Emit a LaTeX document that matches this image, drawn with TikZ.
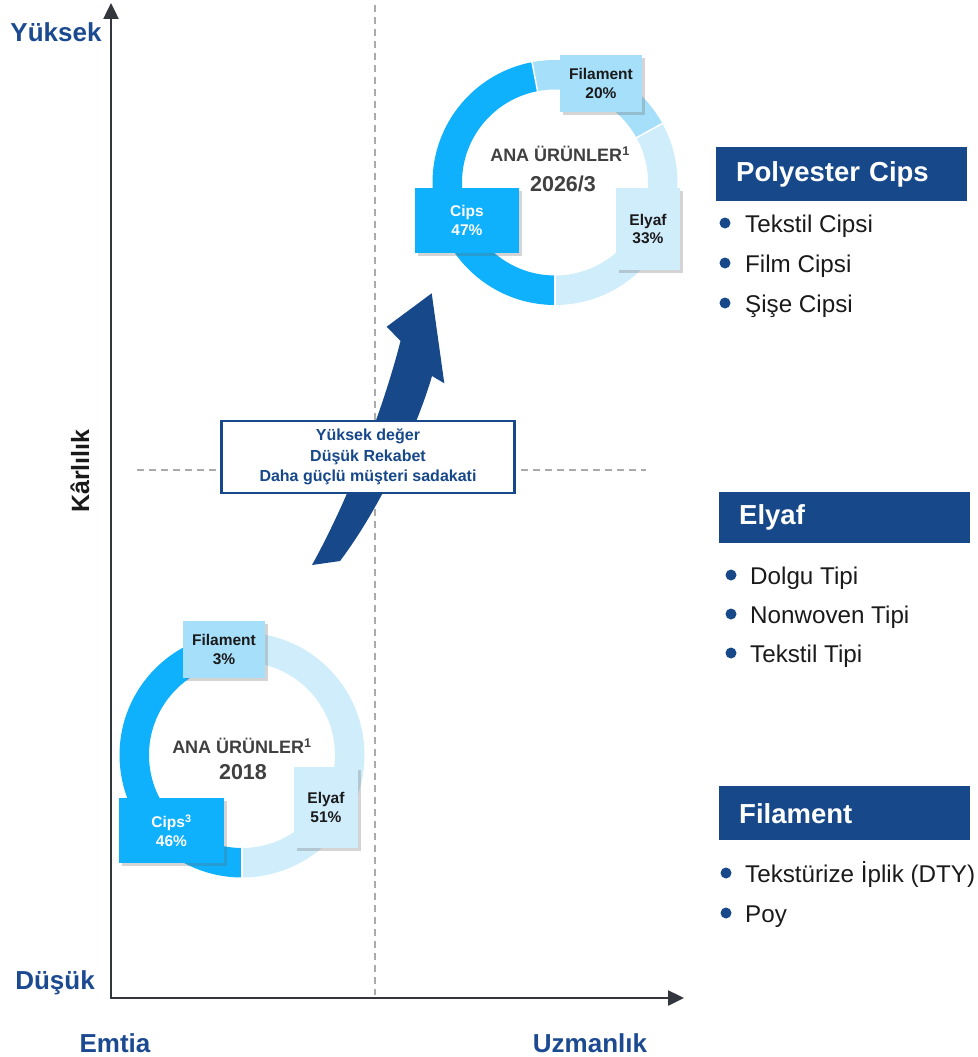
\documentclass[tikz,border=0pt]{standalone}
\usepackage{fontspec}
\setmainfont{Liberation Sans}
\usetikzlibrary{arrows.meta,shadows}
\definecolor{navy}{RGB}{22,72,138}
\definecolor{lblue}{RGB}{27,74,144}
\definecolor{cips}{RGB}{16,177,252}
\definecolor{fil}{RGB}{166,223,250}
\definecolor{ely}{RGB}{208,237,252}
\definecolor{axisc}{RGB}{51,54,61}
\definecolor{dashc}{RGB}{170,170,170}
\definecolor{ctr}{RGB}{64,64,64}
\definecolor{txt}{RGB}{26,26,26}
\newcommand\ringpart[4]{% center, start, end, colour
  \draw[line width=29.5pt,#4] (#1) ++(#2:107.75) arc[start angle=#2,end angle=#3,radius=107.75];}
\newcommand\ringsep[2]{%
  \draw[white,line width=1.5pt] (#1) ++(#2:92) -- ++(#2:31.5);}
\begin{document}
\begin{tikzpicture}[x=1pt,y=-1pt,
  axisline/.style={axisc,line width=2.5pt,{Triangle[length=16pt,width=15pt]}-{Triangle[length=16pt,width=15pt]}},
  dashline/.style={dashc,line width=1.5pt,dash pattern=on 7pt off 5pt},
  axlab/.style={text=lblue,font=\bfseries\fontsize{26}{30}\selectfont,inner sep=0pt},
  lab/.style={align=center,font=\bfseries\fontsize{15.5}{18.5}\selectfont,inner sep=0pt,
    drop shadow={shadow xshift=3pt,shadow yshift=-3pt,opacity=0.28,fill=black!60}},
  ctrtxt/.style={text=ctr,font=\bfseries\fontsize{18}{20}\selectfont,inner sep=0pt},
  yeartxt/.style={text=ctr,font=\bfseries\fontsize{21.5}{24}\selectfont,inner sep=0pt},
  hdr/.style={fill=navy,text=white,font=\bfseries\fontsize{27.5}{32}\selectfont,anchor=north west,
    inner xsep=20pt,inner ysep=0pt,text width=211pt,align=left},
  bul/.style={circle,fill=navy,minimum size=11pt,inner sep=0pt},
  item/.style={anchor=base west,text=txt,font=\fontsize{24.2}{28}\selectfont,inner sep=0pt}]
\useasboundingbox (0,0) rectangle (977,1057);

% dashed quadrant lines
\coordinate (vd1) at (375,5);
\coordinate (vd2) at (375,995);
\coordinate (hd1) at (137,470);
\coordinate (hd2) at (646,470);
\draw[dashline] (vd1) -- (vd2);
\draw[dashline] (hd1) -- (hd2);

% axes
\coordinate (O) at (111,998);
\coordinate (Ytop) at (111,3);
\coordinate (Xend) at (684,998);
\draw[axisline] (Ytop) -- (O) -- (Xend);

% axis labels
\node[axlab] (yuk) at (56,32) {Yüksek};
\node[axlab] (dus) at (55,983) {Düşük};
\node[axlab] (emt) at (115,1043) {Emtia};
\node[axlab] (uzm) at (590,1043) {Uzmanlık};
\node[text=txt,font=\bfseries\fontsize{25}{30}\selectfont,rotate=90,inner sep=0pt] (kar) at (80,471) {Kârlılık};

% big arrow
\fill[navy] (312,565) .. controls (348,500) and (383,410) .. (400.5,341)
  -- (386.7,326.7) -- (431.7,293.3) -- (444.3,383.3) -- (432,376)
  .. controls (421,415) and (386,500) .. (340,561) -- cycle;

% message box
\node[draw=navy,line width=2.5pt,fill=white,minimum width=293pt,minimum height=72pt,
  align=center,text=navy,font=\bfseries\fontsize{16}{20.5}\selectfont] (msg) at (368,457)
  {Yüksek değer\\Düşük Rekabet\\Daha güçlü müşteri sadakati};

% top donut (2026/3)
\coordinate (d1) at (555,182.5);
\ringpart{d1}{90}{259.2}{cips}
\ringpart{d1}{259.2}{331.2}{fil}
\ringpart{d1}{331.2}{450}{ely}
\ringsep{d1}{90}
\ringsep{d1}{259.2}
\ringsep{d1}{331.2}
\node[ctrtxt] (t1) at (560,154) {ANA ÜRÜNLER\textsuperscript{1}};
\node[yeartxt] (y1) at (563,184) {2026/3};
\node[lab,fill=fil,text=txt,minimum width=82pt,minimum height=57pt] (f1) at (601,83.5) {Filament\\20\%};
\node[lab,fill=cips,text=white,minimum width=104pt,minimum height=65pt] (c1) at (467,220.5) {Cips\\47\%};
\node[lab,fill=ely,text=txt,minimum width=64pt,minimum height=82pt] (e1) at (648,229) {Elyaf\\33\%};

% bottom donut (2018)
\coordinate (d2) at (242,755);
\ringpart{d2}{90}{255.6}{cips}
\ringpart{d2}{255.6}{266.4}{fil}
\ringpart{d2}{266.4}{450}{ely}
\ringsep{d2}{90}
\node[ctrtxt] (t2) at (242,746) {ANA ÜRÜNLER\textsuperscript{1}};
\node[yeartxt] (y2) at (243,772) {2018};
\node[lab,fill=fil,text=txt,minimum width=82pt,minimum height=57pt] (f2) at (224,649.5) {Filament\\3\%};
\node[lab,fill=cips,text=white,minimum width=105pt,minimum height=65pt] (c2) at (171.5,830.5) {Cips\textsuperscript{3}\\46\%};
\node[lab,fill=ely,text=txt,minimum width=64pt,minimum height=81pt] (e2) at (326,807.5) {Elyaf\\51\%};

% right panels
\node[hdr,minimum height=54pt] (hpc) at (716,147) {Polyester Cips};
\node[bul] (b11) at (725,223) {};
\node[item] (i11) at (745,232.5) {Tekstil Cipsi};
\node[bul] (b12) at (725,263) {};
\node[item] (i12) at (745,272.5) {Film Cipsi};
\node[bul] (b13) at (725,303) {};
\node[item] (i13) at (745,312.5) {Şişe Cipsi};

\node[hdr,minimum height=51pt] (hel) at (719,492) {Elyaf};
\node[bul] (b21) at (731,575) {};
\node[item] (i21) at (750,584.5) {Dolgu Tipi};
\node[bul] (b22) at (731,614) {};
\node[item] (i22) at (750,623.5) {Nonwoven Tipi};
\node[bul] (b23) at (731,653) {};
\node[item] (i23) at (750,662.5) {Tekstil Tipi};

\node[hdr,minimum height=54pt] (hfi) at (719,786) {Filament};
\node[bul] (b31) at (726,873) {};
\node[item] (i31) at (745,882.5) {Tekstürize İplik (DTY)};
\node[bul] (b32) at (726,913) {};
\node[item] (i32) at (745,922.5) {Poy};
\end{tikzpicture}
\end{document}
